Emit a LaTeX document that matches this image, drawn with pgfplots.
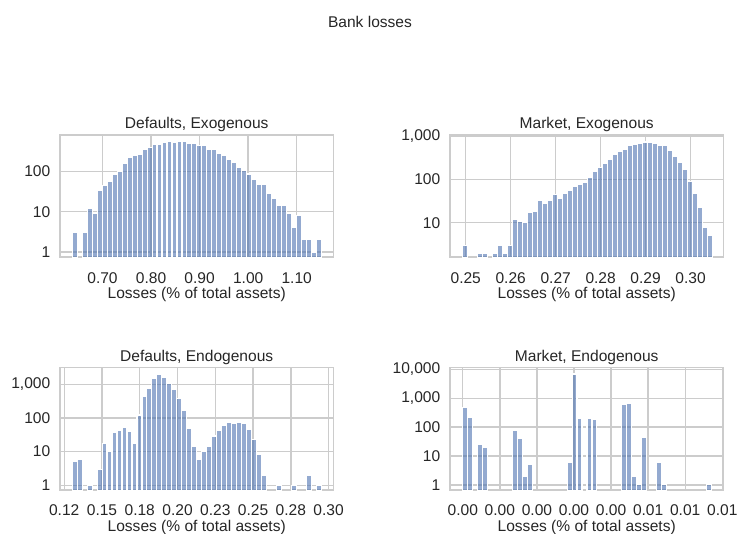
\documentclass[border=0pt]{standalone}
\usepackage{pgfplots}
\pgfplotsset{compat=1.18}
\usepackage{fontspec}
\setmainfont{Liberation Sans}

\definecolor{barblue}{HTML}{4C72B0}
\definecolor{gridgray}{HTML}{CCCCCC}
\definecolor{txt}{HTML}{262626}

% one px of the 740x533 reference = 0.72pt
\pgfplotsset{
  every axis/.append style={
    scale only axis, width=196.85pt, height=88.3pt,
    anchor=south west,
    scaled ticks=false,
    grid=major, major grid style={gridgray, line width=1pt},
    axis line style={gridgray, line width=1.25pt},
    major tick length=0pt, minor tick length=0pt,
    tick style={draw=none},
    font=\fontsize{11.2}{13.4}\selectfont,
    yticklabel style={anchor=east, xshift=-3.5pt, text=txt},
    xticklabel style={anchor=base, yshift=-18.5pt, text=txt},
    title style={at={(0.5,1)}, anchor=base, yshift=-1.9pt, text=txt},
    xlabel style={at={(0.5,0)}, anchor=base, yshift=-29.6pt, text=txt},
    xlabel={Losses (\% of total assets)},
  },
}

\begin{document}
\begin{tikzpicture}
\path[use as bounding box] (0,0) rectangle (532.8pt,383.76pt);
\node[anchor=base, text=txt, font=\fontsize{11.2}{13.4}\selectfont] at (266.4pt,364.3pt) {Bank losses};

% Defaults, Exogenous
\begin{axis}[at={(43.2pt,198.5pt)},
  ymode=log, log origin=infty, ybar, bar width=0.010246,
  title={Defaults, Exogenous},
  xmin=0.6125, xmax=1.1755, ymin=0.74, ymax=823,
  xtick={0.7,0.8,0.9,1.0,1.1}, xticklabels={0.70,0.80,0.90,1.00,1.10},
  ytick={1,10,100}, yticklabels={1,10,100}]
\addplot[fill=barblue, fill opacity=0.6, draw=white, line width=0.8pt] coordinates {
(0.6433,3) (0.6638,3) (0.6740,12) (0.6843,9) (0.6945,34)
(0.7048,46) (0.7150,57) (0.7253,84) (0.7355,100) (0.7458,158)
(0.7560,223) (0.7663,254) (0.7765,265) (0.7867,352) (0.7970,386)
(0.8072,470) (0.8175,470) (0.8277,514) (0.8380,545) (0.8482,514)
(0.8585,545) (0.8687,568) (0.8790,498) (0.8892,498) (0.8995,451)
(0.9097,437) (0.9199,359) (0.9302,352) (0.9404,280) (0.9507,254)
(0.9609,199) (0.9712,164) (0.9814,123) (0.9917,104) (1.0019,87)
(1.0122,65) (1.0224,48) (1.0327,48) (1.0429,29) (1.0531,22)
(1.0634,14) (1.0736,14) (1.0839,9) (1.0941,4) (1.1044,8)
(1.1146,2) (1.1249,2) (1.1351,1) (1.1454,2)
};
\end{axis}

% Market, Exogenous
\begin{axis}[at={(324pt,198.5pt)},
  ymode=log, log origin=infty, ybar, bar width=0.001111,
  title={Market, Exogenous},
  xmin=0.2465, xmax=0.3073, ymin=1.6, ymax=1075,
  xtick={0.25,0.26,0.27,0.28,0.29,0.30}, xticklabels={0.25,0.26,0.27,0.28,0.29,0.30},
  ytick={10,100,1000}, yticklabels={10,100,{1,000}}]
\addplot[fill=barblue, fill opacity=0.6, draw=white, line width=0.8pt] coordinates {
(0.2498,3) (0.2532,2) (0.2543,2) (0.2565,2) (0.2576,3)
(0.2587,2) (0.2599,3) (0.2610,12) (0.2621,11) (0.2632,10)
(0.2643,17) (0.2654,18) (0.2665,33) (0.2676,28) (0.2687,33)
(0.2698,44) (0.2710,36) (0.2721,48) (0.2732,55) (0.2743,69)
(0.2754,77) (0.2765,84) (0.2776,109) (0.2787,153) (0.2798,192)
(0.2810,230) (0.2821,285) (0.2832,372) (0.2843,451) (0.2854,493)
(0.2865,600) (0.2876,632) (0.2887,668) (0.2898,728) (0.2910,704)
(0.2921,668) (0.2932,600) (0.2943,600) (0.2954,467) (0.2965,345)
(0.2976,243) (0.2987,170) (0.2998,90) (0.3010,48) (0.3021,22)
(0.3032,8) (0.3043,5)
};
\end{axis}

% Defaults, Endogenous
\begin{axis}[at={(43.2pt,30.8pt)},
  ymode=log, log origin=infty, ybar, bar width=0.003298,
  title={Defaults, Endogenous},
  xmin=0.1222, xmax=0.3032, ymin=0.71, ymax=3120,
  xtick={0.125,0.15,0.175,0.2,0.225,0.25,0.275,0.3},
  xticklabels={0.12,0.15,0.18,0.20,0.23,0.25,0.28,0.30},
  ytick={1,10,100,1000}, yticklabels={1,10,100,{1,000}}]
\addplot[fill=barblue, fill opacity=0.6, draw=white, line width=0.8pt] coordinates {
(0.1319,5) (0.1352,6) (0.1418,1) (0.1484,3) (0.1517,17)
(0.1550,10) (0.1583,36) (0.1616,41) (0.1649,52) (0.1682,39)
(0.1715,18) (0.1748,122) (0.1781,443) (0.1814,770) (0.1847,1462)
(0.1880,1977) (0.1913,1607) (0.1946,1086) (0.1979,703) (0.2012,386)
(0.2045,169) (0.2078,49) (0.2111,14) (0.2143,6) (0.2176,10)
(0.2209,14) (0.2242,29) (0.2275,41) (0.2308,60) (0.2341,72)
(0.2374,69) (0.2407,72) (0.2440,69) (0.2473,45) (0.2506,23)
(0.2539,8) (0.2572,2) (0.2671,1) (0.2770,1) (0.2869,2)
(0.2935,1)
};
\end{axis}

% Market, Endogenous
\begin{axis}[at={(324pt,30.8pt)},
  ymode=log, log origin=infty, ybar, bar width=0.000134,
  title={Market, Endogenous},
  xmin=-0.000345, xmax=0.00703, ymin=0.656, ymax=11450,
  xtick={0,0.001,0.002,0.003,0.004,0.005,0.006,0.007},
  xticklabels={0.00,0.00,0.00,0.00,0.00,0.01,0.01,0.01},
  ytick={1,10,100,1000,10000}, yticklabels={1,10,100,{1,000},{10,000}}]
\addplot[fill=barblue, fill opacity=0.6, draw=white, line width=0.8pt] coordinates {
(0.000067,474) (0.000201,221) (0.000469,26) (0.000603,20)
(0.001407,75) (0.001541,39) (0.001675,2) (0.001809,5)
(0.002881,6) (0.003015,6890) (0.003149,194)
(0.003417,194) (0.003551,180)
(0.004355,590) (0.004489,673) (0.004623,2) (0.004757,1) (0.004891,44)
(0.005293,6) (0.005427,1)
(0.006633,1)
};
\end{axis}
\end{tikzpicture}
\end{document}
